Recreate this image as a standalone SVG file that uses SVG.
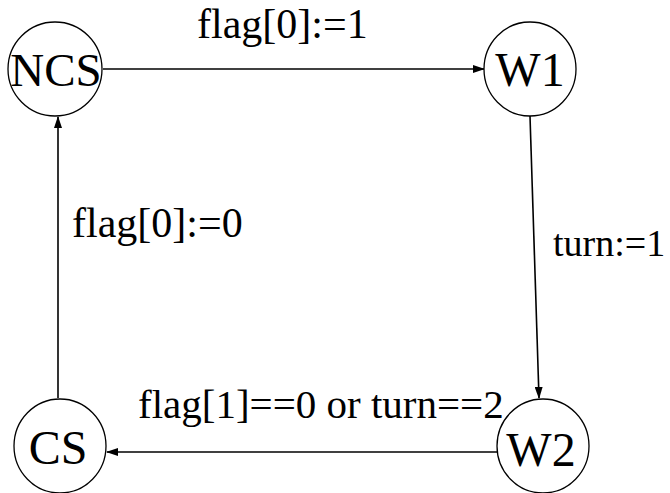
<svg xmlns="http://www.w3.org/2000/svg" width="670" height="493" viewBox="0 0 670 493">
<defs>
<marker id="a" markerWidth="12" markerHeight="8" refX="11" refY="4" orient="auto" markerUnits="userSpaceOnUse">
<path d="M0,0 L12,4 L0,8 Z" fill="#000"/>
</marker>
</defs>
<rect width="670" height="493" fill="#fff"/>
<g id="edges" stroke="#000" stroke-width="1.6" fill="none">
<line x1="103" y1="69" x2="484" y2="69" marker-end="url(#a)"/>
<line x1="530" y1="116" x2="539" y2="398" marker-end="url(#a)"/>
<line x1="497" y1="452" x2="107" y2="452" marker-end="url(#a)"/>
<line x1="58" y1="398" x2="58" y2="117" marker-end="url(#a)"/>
</g>
<g id="labels">
<text style="font-family:'Liberation Serif'" font-size="42" x="197" y="38">flag[0]:=1</text>
<text style="font-family:'Liberation Serif'" font-size="38" x="553" y="256">turn:=1</text>
<text style="font-family:'Liberation Serif'" font-size="42" x="72" y="237">flag[0]:=0</text>
<text style="font-family:'Liberation Serif'" font-size="41" x="138" y="418">flag[1]==0 or turn==2</text>
</g>
<g id="NCS"><ellipse cx="55" cy="69" rx="47" ry="47" fill="#fff" stroke="#000" stroke-width="1.3"/><text style="font-family:'Liberation Serif'" font-size="47" x="56" y="86" text-anchor="middle">NCS</text></g>
<g id="W1"><ellipse cx="530" cy="69" rx="46" ry="47" fill="#fff" stroke="#000" stroke-width="1.3"/><text style="font-family:'Liberation Serif'" font-size="48" x="530" y="86" text-anchor="middle">W1</text></g>
<g id="CS"><ellipse cx="60" cy="446" rx="46" ry="47" fill="#fff" stroke="#000" stroke-width="1.3"/><text style="font-family:'Liberation Serif'" font-size="48" x="58" y="464" text-anchor="middle">CS</text></g>
<g id="W2"><ellipse cx="543" cy="446" rx="46" ry="47" fill="#fff" stroke="#000" stroke-width="1.3"/><text style="font-family:'Liberation Serif'" font-size="48" x="541" y="466" text-anchor="middle">W2</text></g>
</svg>
